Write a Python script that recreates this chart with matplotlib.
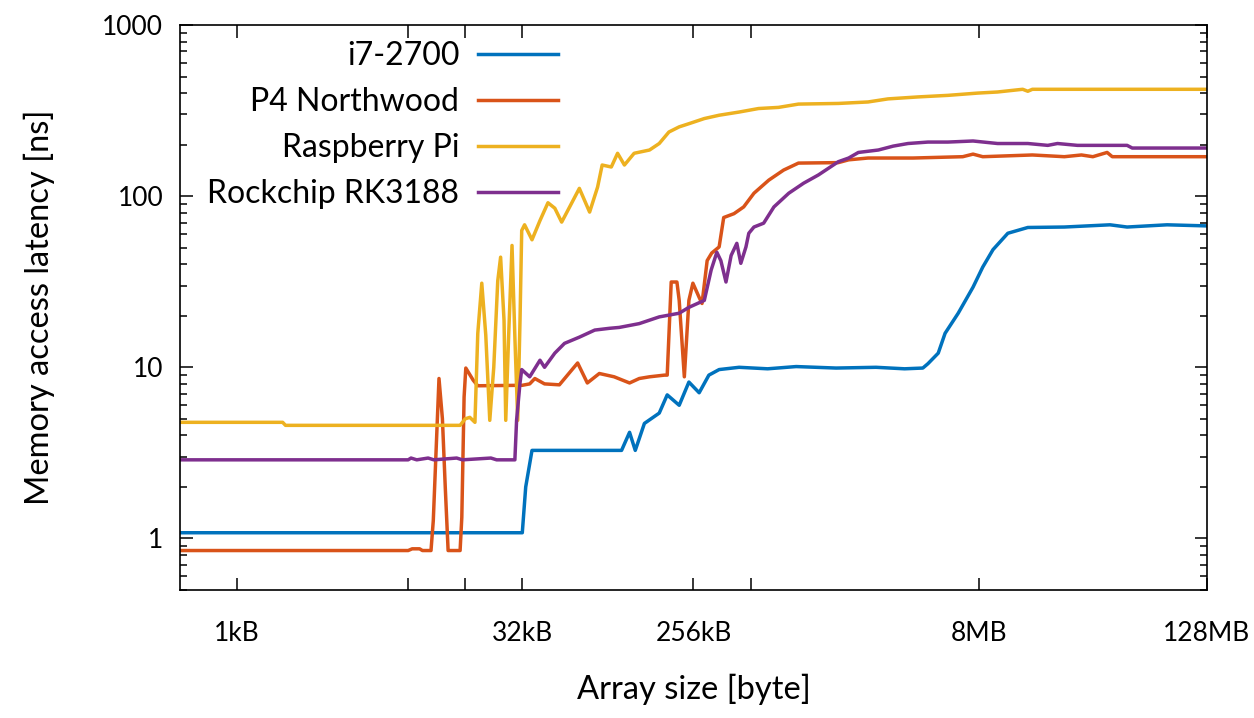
import numpy as np
import matplotlib
matplotlib.use("Agg")
import matplotlib.pyplot as plt
from matplotlib.ticker import FixedLocator, FixedFormatter, LogLocator, NullFormatter

plt.rcParams['font.family'] = ['Lato', 'DejaVu Sans']

# array size given as log2(bytes), latency in ns
i7_x = [9.0, 15.0, 15.06, 15.17, 16.74, 16.88, 16.98, 17.14, 17.40, 17.54, 17.75, 17.92,
        18.10, 18.27, 18.45, 18.80, 19.3, 19.8, 20.5, 21.2, 21.7, 22.02, 22.11, 22.29,
        22.41, 22.64, 22.90, 23.07, 23.25, 23.51, 23.86, 24.5, 25.3, 25.6, 26.3, 27.0]
i7_y = [1.08, 1.08, 2.0, 3.27, 3.27, 4.17, 3.27, 4.7, 5.4, 6.9, 6.0, 8.2,
        7.1, 9.0, 9.7, 10.0, 9.8, 10.1, 9.9, 10.0, 9.8, 9.9, 10.5, 12.1,
        15.8, 20.7, 29.4, 38.5, 48.7, 60.7, 65.6, 66, 68, 66, 68, 67]

p4_x = [9.0, 13.0, 13.07, 13.2, 13.25, 13.40, 13.44, 13.54, 13.60, 13.65, 13.70, 13.91,
        13.94, 13.98, 14.01, 14.14, 14.22, 15.0, 15.13, 15.22, 15.39, 15.65, 15.97, 16.14,
        16.35, 16.61, 16.88, 17.05, 17.23, 17.49, 17.54, 17.61, 17.71, 17.75, 17.84, 17.92,
        17.99, 18.10, 18.15, 18.24, 18.32, 18.45, 18.53, 18.71, 18.88, 19.06, 19.32, 19.58,
        19.84, 20.54, 20.72, 21.06, 21.85, 22.72, 22.90, 23.07, 23.94, 24.5, 24.8, 25.0,
        25.25, 25.34, 27.0]
p4_y = [0.85, 0.85, 0.87, 0.87, 0.85, 0.85, 1.27, 8.6, 5.0, 1.99, 0.85, 0.85,
        1.33, 6.7, 9.9, 8.4, 7.8, 7.85, 8.0, 8.6, 8.0, 7.9, 10.6, 8.1,
        9.2, 8.8, 8.1, 8.6, 8.8, 9.0, 9.0, 31.5, 31.5, 24.6, 8.8, 24.6,
        31, 25.6, 23.6, 42, 46.5, 50.5, 75, 79, 86.5, 104, 124, 142,
        156, 157, 163, 167, 167, 170, 176, 170, 174, 170, 174, 170,
        180, 170, 170]

rpi_x = [9.0, 10.8, 10.85, 13.91, 14.0, 14.08, 14.17, 14.22, 14.29, 14.36, 14.43, 14.50,
         14.57, 14.62, 14.68, 14.71, 14.76, 14.82, 14.87, 14.92, 14.96, 14.99, 15.04, 15.17,
         15.31, 15.45, 15.57, 15.69, 15.83, 16.00, 16.18, 16.32, 16.40, 16.56, 16.67, 16.79,
         16.96, 17.23, 17.40, 17.57, 17.75, 17.92, 18.19, 18.45, 18.80, 19.14, 19.49, 19.84,
         20.54, 21.06, 21.41, 21.94, 22.46, 22.98, 23.33, 23.68, 23.77, 23.86, 23.94, 27.0]
rpi_y = [4.77, 4.77, 4.58, 4.58, 5.0, 5.1, 4.77, 15.8, 31, 15.4, 4.9, 10,
         32, 44, 18.8, 4.9, 15, 51.5, 15, 4.9, 18.8, 63, 68, 55.6,
         72, 91.5, 85, 70.5, 86.5, 111, 80.7, 113, 152, 148, 178, 152,
         178, 186, 203, 237, 254, 265, 284, 297, 310, 325, 330, 345,
         348, 355, 370, 380, 388, 400, 406, 418, 421, 410, 421, 421]

rk_x = [9.0, 13.0, 13.05, 13.15, 13.35, 13.45, 13.85, 13.95, 14.45, 14.55, 14.87, 14.90,
        14.96, 14.99, 15.13, 15.31, 15.39, 15.57, 15.74, 16.00, 16.27, 16.53, 16.70, 17.05,
        17.40, 17.75, 17.92, 18.19, 18.31, 18.41, 18.48, 18.57, 18.66, 18.76, 18.83, 18.92,
        18.97, 19.06, 19.23, 19.41, 19.67, 19.93, 20.19, 20.54, 20.72, 20.89, 21.24, 21.50,
        21.76, 22.11, 22.46, 22.90, 23.33, 23.86, 24.21, 24.38, 24.73, 25.60, 25.69, 27.0]
rk_y = [2.88, 2.88, 2.95, 2.88, 2.95, 2.88, 2.95, 2.88, 2.95, 2.88, 2.88, 4.9,
        8.1, 9.7, 8.8, 11, 10, 12.1, 13.8, 15, 16.5, 16.9, 17.1, 18,
        19.7, 20.7, 22.4, 24.6, 37, 47, 42, 31.5, 45, 53, 40.5, 50.5,
        60.7, 66, 69.5, 86.5, 104, 119, 133, 159, 167, 180, 186, 196,
        203, 207, 207, 210, 203, 203, 198, 203, 198, 198, 191, 191]

series = [("i7-2700", i7_x, i7_y, "#0072bd"),
          ("P4 Northwood", p4_x, p4_y, "#d95319"),
          ("Raspberry Pi", rpi_x, rpi_y, "#edb120"),
          ("Rockchip RK3188", rk_x, rk_y, "#7e2f8e")]

xtick_pos = [10, 13, 14, 15, 18, 19, 23, 27]
xtick_lab = ["1kB", "", "", "32kB", "256kB", "", "8MB", "128MB"]

fig = plt.figure(figsize=(12.54, 7.18), dpi=100)
ax = fig.add_axes([0.1435, 0.1783, 0.819, 0.7869])

for name, xs, ys, col in series:
    ax.plot(2.0 ** np.array(xs), ys, color=col, lw=2.5, label=name)

ax.set_xscale("log", base=2)
ax.set_yscale("log")
ax.set_xlim(2 ** 9, 2 ** 27)
ax.set_ylim(0.5, 1000)

ax.xaxis.set_major_locator(FixedLocator([2.0 ** p for p in xtick_pos]))
ax.xaxis.set_major_formatter(FixedFormatter(xtick_lab))
ax.xaxis.set_minor_locator(FixedLocator([]))
ax.yaxis.set_major_locator(FixedLocator([1, 10, 100, 1000]))
ax.yaxis.set_major_formatter(FixedFormatter(["1", "10", "100", "1000"]))
ax.yaxis.set_minor_locator(LogLocator(base=10, subs=np.arange(2, 10)))
ax.yaxis.set_minor_formatter(NullFormatter())

ax.tick_params(which="both", direction="in", top=True, right=True, width=1.1, colors="black")
ax.tick_params(which="major", length=9, labelsize=19)
ax.tick_params(which="minor", length=5)
ax.tick_params(axis="x", pad=22)
ax.tick_params(axis="y", pad=12)
for s in ax.spines.values():
    s.set_linewidth(1.2)

ax.set_xlabel("Array size [byte]", fontsize=23.5, labelpad=20)
ax.set_ylabel("Memory access latency [ns]", fontsize=23.5, labelpad=34)

ax.legend(loc="upper right", bbox_to_anchor=(0.384, 1.0), frameon=False, markerfirst=False,
          fontsize=23, handlelength=2.5, handletextpad=0.6, labelspacing=0.5,
          borderaxespad=0.1)

plt.savefig("out.png", dpi=100)
